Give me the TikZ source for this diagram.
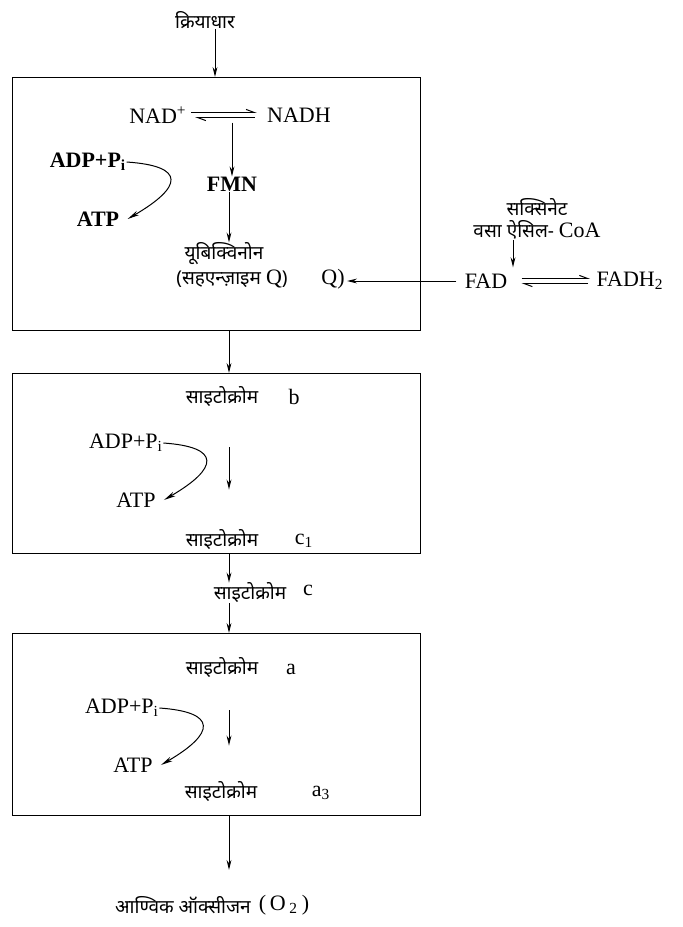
\documentclass[tikz,border=0pt]{standalone}
\usepackage{fontspec}
\setmainfont{Liberation Serif}
\newfontfamily\hi[Script=Devanagari]{Noto Sans}
\usetikzlibrary{arrows.meta}
\begin{document}
\begin{tikzpicture}[x=0.5pt,y=-0.5pt,
  lat/.style={font=\fontsize{11}{12}\selectfont, inner sep=0pt},
  latb/.style={font=\fontsize{11}{12}\selectfont\bfseries, inner sep=0pt},
  dev/.style={font=\fontsize{9.5}{11}\selectfont\hi, inner sep=0pt},
  boxx/.style={draw, line width=0.6pt, anchor=north west, inner sep=0pt, minimum width=204pt},
  arr/.style={line width=0.5pt, -{Stealth[length=5pt,width=2.4pt]}},
  harp/.style={line width=0.5pt, -{Straight Barb[harpoon,length=4pt,width=3pt]}},
  curv/.style={line width=0.5pt, -{Stealth[length=6pt,width=2.4pt]}},
]
\useasboundingbox (0,0) rectangle (683,927);
\coordinate (ax) at (229,0);

% boxes
\node[boxx, minimum height=126.5pt] (box1) at (12,77) {};
\node[boxx, minimum height=90pt] (box2) at (12,373) {};
\node[boxx, minimum height=91pt] (box3) at (12,633) {};

% title
\node[dev] (title) at (205,20) {क्रियाधार};
\coordinate (tin) at (215,0);
\draw[arr] (title.south -| tin) -- (box1.north -| tin);

% box 1
\node[lat] (nad) at (158,115) {NAD\textsuperscript{+}};
\node[lat] (nadh) at (299,115) {NADH};
\draw[harp] ([xshift=2pt,yshift=1.3pt]nad.east) -- ([xshift=-5pt,yshift=1.3pt]nadh.west);
\draw[harp] ([xshift=-6pt,yshift=-1.3pt]nadh.west) -- ([xshift=4pt,yshift=-1.3pt]nad.east);
\node[latb] (fmn) at (232,184) {FMN};
\draw[arr] (nadh.south -| fmn) -- (fmn.north);
\node[latb] (adp1) at (88,162) {ADP+P\textsubscript{i}};
\node[latb] (atp1) at (98,219) {ATP};
\draw[curv] (adp1.east) .. controls +(60,4) and +(55,-32) .. ([xshift=4pt]atp1.east);
\node[dev] (ubq) at (224,254) {यूबिक्विनोन};
\draw[arr] (fmn.south -| ax) -- (ubq.north -| ax);
\node[dev] (sah) at (232,279) {(सहएन्ज़ाइम \textrm{\fontsize{11}{12}\selectfont Q})};
\node[lat] (q) at (333,279) {Q)};

% succinate side
\node[dev] (sux) at (537,207) {सक्सिनेट};
\node[dev] (vasa) at (537,230) {वसा ऐसिल- \textrm{\fontsize{11}{12}\selectfont CoA}};
\node[lat] (fad) at (486,281) {FAD};
\node[lat] (fadh) at (630,281) {FADH\textsubscript{2}};
\draw[harp] ([xshift=7pt,yshift=1.3pt]fad.east) -- ([xshift=-3pt,yshift=1.3pt]fadh.west);
\draw[harp] ([xshift=-4pt,yshift=-1.3pt]fadh.west) -- ([xshift=7pt,yshift=-1.3pt]fad.east);
\coordinate (fx) at (513,0);
\draw[arr] (vasa.south -| fx) -- ([yshift=3pt]fad.north -| fx);
\draw[arr, shorten >=5pt] ([xshift=-4pt]fad.west) -- ([xshift=-4pt]fad.west -| q.east);

% box1 -> box2
\draw[arr] (box1.south -| ax) -- (box2.north -| ax);

% box 2
\node[dev] (cytb) at (222,397) {साइटोक्रोम};
\node[lat] (lb) at (294,397) {b};
\node[lat] (adp2) at (126,443) {ADP+P\textsubscript{i}};
\node[lat] (atp2) at (136,500) {ATP};
\draw[curv] (adp2.east) .. controls +(58,4) and +(55,-32) .. ([xshift=4pt]atp2.east);
\node[dev] (cytc1) at (222,540) {साइटोक्रोम};
\node[lat] (lc1) at (304,541) {c\textsubscript{1}};
\draw[arr, shorten <=20pt, shorten >=20pt] (cytb.south -| ax) -- (cytc1.north -| ax);

% between
\node[dev] (cytc) at (250,593) {साइटोक्रोम};
\node[lat] (lc) at (308,590) {c};
\draw[arr] (box2.south -| ax) -- (cytc.north -| ax);
\draw[arr] (cytc.south -| ax) -- (box3.north -| ax);

% box 3
\node[dev] (cyta) at (222,668) {साइटोक्रोम};
\node[lat] (la) at (291,669) {a};
\node[lat] (adp3) at (122,708) {ADP+P\textsubscript{i}};
\node[lat] (atp3) at (133,765) {ATP};
\draw[curv] (adp3.east) .. controls +(58,4) and +(55,-32) .. ([xshift=4pt]atp3.east);
\node[dev] (cyta3) at (221,792) {साइटोक्रोम};
\node[lat] (la3) at (321,793) {a\textsubscript{3}};
\draw[arr, shorten <=16pt, shorten >=18pt] (cyta.south -| ax) -- (cyta3.north -| ax);

% oxygen
\node[dev] (o2w) at (183,905) {आण्विक ऑक्सीजन};
\node[lat] (o2) at (284,905) {(\,O\,\textsubscript{2}\,)};
\draw[arr, shorten >=13pt] (box3.south -| ax) -- (o2w.north -| ax);
\end{tikzpicture}
\end{document}
